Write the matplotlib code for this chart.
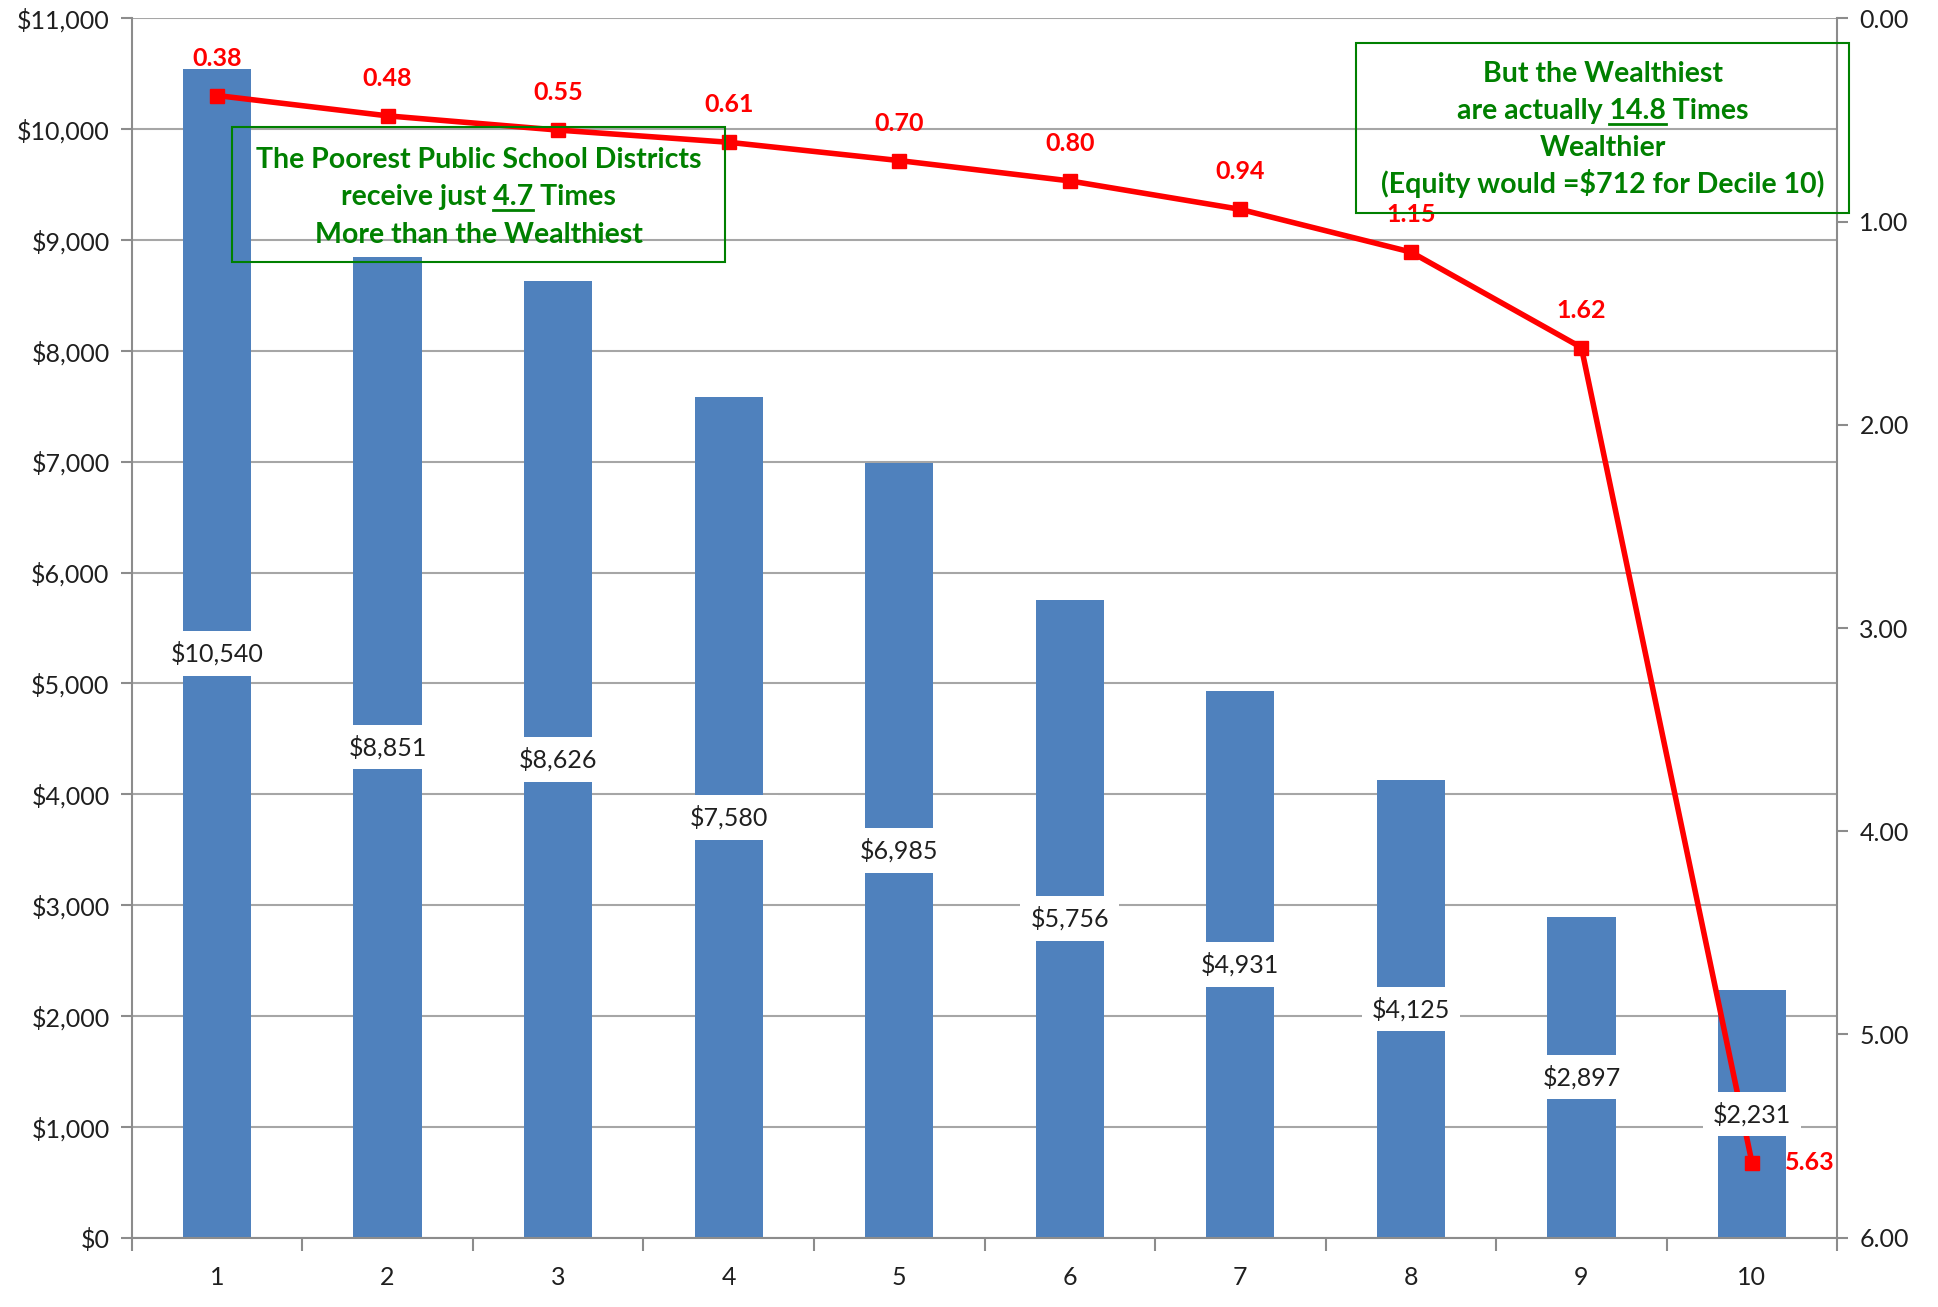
import matplotlib
matplotlib.use("Agg")
import matplotlib.pyplot as plt
from matplotlib.lines import Line2D
from matplotlib.patches import Rectangle
from matplotlib.ticker import FuncFormatter, MultipleLocator
from matplotlib.font_manager import FontProperties

plt.rcParams['font.family'] = ['Lato', 'DejaVu Sans']

# data
deciles = [1, 2, 3, 4, 5, 6, 7, 8, 9, 10]
funding = [10540, 8851, 8626, 7580, 6985, 5756, 4931, 4125, 2897, 2231]
ratio = [0.38, 0.48, 0.55, 0.61, 0.70, 0.80, 0.94, 1.15, 1.62, 5.63]

box1_lines = [("The Poorest Public School Districts", None),
              ("receive just ", "4.7", " Times"),
              ("More than the Wealthiest", None)]
box2_lines = [("But the Wealthiest", None),
              ("are actually ", "14.8", " Times"),
              ("Wealthier", None),
              ("(Equity would =$712 for Decile 10)", None)]

BLUE = "#4F81BD"
RED = "#FF0000"
GREEN = "#008000"
GRAY = "#8C8C8C"
TXT = "#1F1F1F"

fig = plt.figure(figsize=(19.38, 13.07), dpi=100)
ax = fig.add_axes([0.068, 0.053, 0.880, 0.933])

# bars
ax.bar(deciles, funding, width=0.4, color=BLUE, zorder=2)
ax.set_xlim(0.5, 10.5)
ax.set_ylim(0, 11000)
ax.yaxis.set_major_locator(MultipleLocator(1000))
ax.yaxis.set_major_formatter(FuncFormatter(lambda v, p: f"${v:,.0f}"))
ax.set_xticks(deciles)
ax.set_xticks([d + 0.5 for d in [0] + deciles], minor=True)
ax.tick_params(axis='x', which='major', length=0, pad=20, labelsize=18, labelcolor=TXT)
ax.tick_params(axis='x', which='minor', length=9, width=1.5, color=GRAY, direction='out')
ax.tick_params(axis='y', length=8, width=1.5, color=GRAY, pad=8, labelsize=18, labelcolor=TXT)
ax.grid(axis='y', color="#A6A6A6", linewidth=1.5, zorder=0)
ax.set_axisbelow(True)
for s in ['top', 'right']:
    ax.spines[s].set_visible(False)
for s in ['left', 'bottom']:
    ax.spines[s].set_color(GRAY)
    ax.spines[s].set_linewidth(1.5)

# ratio line on the inverted right axis
ax2 = ax.twinx()
ax2.plot(deciles, ratio, color=RED, linewidth=4, marker='s', markersize=10, zorder=3)
ax2.set_ylim(6, 0)
ax2.yaxis.set_major_locator(MultipleLocator(1))
ax2.yaxis.set_major_formatter(FuncFormatter(lambda v, p: f"{v:.2f}"))
ax2.tick_params(axis='y', length=8, width=1.5, color=GRAY, pad=8, labelsize=18, labelcolor=TXT)
for s in ['top', 'left', 'bottom']:
    ax2.spines[s].set_visible(False)
ax2.spines['right'].set_color(GRAY)
ax2.spines['right'].set_linewidth(1.5)

for d, r in zip(deciles, ratio):
    if d == 10:
        ax2.annotate(f"{r:.2f}", (d, r), xytext=(24, 0), textcoords='offset points',
                     ha='left', va='center', color=RED, fontsize=18, fontweight='bold')
    else:
        ax2.annotate(f"{r:.2f}", (d, r), xytext=(0, 27), textcoords='offset points',
                     ha='center', va='center', color=RED, fontsize=18, fontweight='bold')

# bar value labels, drawn above the line
for d, v in zip(deciles, funding):
    ax2.text(d, v / 2, f"${v:,}", transform=ax.transData, ha='center', va='center',
             fontsize=18, color=TXT, zorder=5,
             bbox=dict(boxstyle='square,pad=0.4', fc='white', ec='none'))

# annotation boxes
renderer = fig.canvas.get_renderer()
fp = FontProperties(family=['Lato', 'DejaVu Sans'], weight='bold', size=20.5)


def text_box(x0, x1, y0, y1, lines, ytop, step):
    ax2.add_patch(Rectangle((x0, y0), x1 - x0, y1 - y0, transform=ax2.transAxes,
                            fill=False, ec=GREEN, lw=1.5, clip_on=False, zorder=6))
    xc = (x0 + x1) / 2
    inv = ax2.transAxes.inverted()
    for i, parts in enumerate(lines):
        y = ytop - i * step
        full = "".join(p for p in parts if p)
        ax2.text(xc, y, full, transform=ax2.transAxes, ha='center', va='baseline',
                 fontproperties=fp, color=GREEN, zorder=6, clip_on=False)
        if len(parts) == 3:
            pre, num, post = parts
            wf = renderer.get_text_width_height_descent(full, fp, ismath=False)[0]
            wpn = renderer.get_text_width_height_descent(pre + num, fp, ismath=False)[0]
            wn = renderer.get_text_width_height_descent(num, fp, ismath=False)[0]
            px, py = ax2.transAxes.transform((xc, y))
            left = px - wf / 2
            xa = left + wpn - wn
            xb = left + wpn
            (ua, uy), (ub, _) = inv.transform([(xa, py - 5), (xb, py - 5)])
            ax2.add_line(Line2D([ua, ub], [uy, uy], transform=ax2.transAxes,
                                color=GREEN, lw=2, clip_on=False, zorder=6))


text_box(0.0587, 0.348, 0.800, 0.911, box1_lines, 0.877, 0.0305)
text_box(0.718, 1.007, 0.840, 0.980, box2_lines, 0.948, 0.0305)

fig.savefig("out.png", dpi=100)
